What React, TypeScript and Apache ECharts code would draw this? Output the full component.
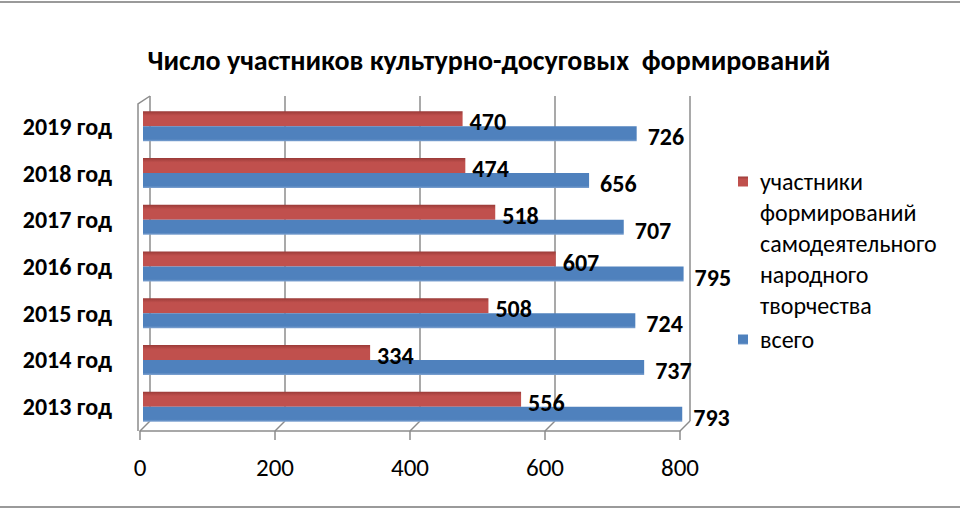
import React, { useEffect, useRef } from 'react';
import * as echarts from 'echarts';

const categories = ['2013 год', '2014 год', '2015 год', '2016 год', '2017 год', '2018 год', '2019 год'];
const participants = [556, 334, 508, 607, 518, 474, 470];
const totals = [793, 737, 724, 795, 707, 656, 726];
const seriesNames = ['участники формирований самодеятельного народного творчества', 'всего'];
const xTicks = [0, 200, 400, 600, 800];
const titleText = 'Число участников культурно-досуговых  формирований';

const FONT = 'Carlito, "Open Sans", sans-serif';
const RED = '#c0504d';
const BLUE = '#4f81bd';
const GRIDC = '#8c8c8c';

const FRONT_BOTTOM = 431;
const BACK_BOTTOM = 421;

export default function App() {
  const ref = useRef<HTMLDivElement>(null);
  useEffect(() => {
    document.body.style.margin = '0';
    const chart = echarts.init(ref.current!, null, { renderer: 'svg' });
    const option: any = {
      animation: false,
      backgroundColor: '#ffffff',
      title: {
        text: titleText,
        left: 484,
        textAlign: 'center',
        top: 41,
        textStyle: { fontFamily: FONT, fontSize: 28, fontWeight: 'bold', color: '#000' },
      },
      legend: {
        orient: 'vertical',
        left: 738,
        top: 42,
        padding: 0,
        itemWidth: 10,
        itemHeight: 10,
        itemGap: 3,
        icon: 'rect',
        selectedMode: false,
        formatter: (name: string) => {
          const lines = name.split(' ');
          const pad = new Array(lines.length - 1).fill('').join('\n');
          return lines.length > 1 ? pad + '\n' + lines.join('\n') : name;
        },
        textStyle: { fontFamily: FONT, fontSize: 24, color: '#000', lineHeight: 31, padding: [0, 0, 0, 7] },
        data: seriesNames,
      },
      grid: [
        { left: 143, top: 103, width: 544, height: 327 },
        { left: 140, top: 103, width: 540, height: FRONT_BOTTOM - 103 },
        { left: 150, top: 96, width: 540, height: BACK_BOTTOM - 96 },
      ],
      xAxis: [
        {
          gridIndex: 0, type: 'value', min: 0, max: 800, interval: 200,
          axisLine: { show: false }, axisTick: { show: false }, axisLabel: { show: false }, splitLine: { show: false },
        },
        {
          gridIndex: 1, type: 'value', min: 0, max: 800, interval: 200,
          axisLine: { show: true, lineStyle: { color: GRIDC, width: 1.5 } },
          axisTick: { show: true, length: 9, lineStyle: { color: GRIDC, width: 1.5 } },
          axisLabel: {
            show: true, margin: 24, fontFamily: FONT, fontSize: 25, color: '#000',
            formatter: (v: number) => (xTicks.includes(v) ? String(v) : ''),
          },
          splitLine: { show: false },
        },
        {
          gridIndex: 2, type: 'value', min: 0, max: 800, interval: 200,
          axisLine: { show: false }, axisTick: { show: false }, axisLabel: { show: false },
          splitLine: { show: true, lineStyle: { color: GRIDC, width: 1.5 } },
        },
      ],
      yAxis: [
        {
          gridIndex: 0, type: 'category', data: categories,
          axisLine: { show: false }, axisTick: { show: false },
          axisLabel: { margin: 31, fontFamily: FONT, fontSize: 24, fontWeight: 'bold', color: '#000' },
        },
        { gridIndex: 1, type: 'category', data: categories, show: false },
        { gridIndex: 2, type: 'category', data: categories, show: false },
      ],
      series: [
        {
          name: seriesNames[0],
          type: 'bar',
          xAxisIndex: 0, yAxisIndex: 0,
          data: participants,
          barWidth: 15,
          barGap: '0%',
          itemStyle: {
            color: new echarts.graphic.LinearGradient(0, 0, 0, 1, [
              { offset: 0, color: '#9a3a37' },
              { offset: 0.2, color: '#b54a47' },
              { offset: 0.3, color: RED },
              { offset: 1, color: RED },
            ]),
          },
          label: {
            show: true, position: 'right', distance: 7, offset: [0, 3],
            fontFamily: FONT, fontSize: 24, fontWeight: 'bold', color: '#000',
          },
        },
        {
          name: seriesNames[1],
          type: 'bar',
          xAxisIndex: 0, yAxisIndex: 0,
          data: totals,
          barWidth: 15,
          barGap: '0%',
          itemStyle: {
            color: new echarts.graphic.LinearGradient(0, 0, 0, 1, [
              { offset: 0, color: BLUE },
              { offset: 0.85, color: BLUE },
              { offset: 1, color: '#7fa3d1' },
            ]),
          },
          label: {
            show: true, position: 'right', distance: 11, offset: [0, 3],
            fontFamily: FONT, fontSize: 24, fontWeight: 'bold', color: '#000',
          },
        },
      ],
    };
    chart.setOption(option);

    const fx = (v: number) => chart.convertToPixel({ xAxisIndex: 1 }, v) as number;
    const bx = (v: number) => chart.convertToPixel({ xAxisIndex: 2 }, v) as number;
    const lineStyle = { stroke: GRIDC, lineWidth: 1.5, fill: 'none' };
    const graphics: any[] = xTicks.map((v) => ({
      type: 'line',
      shape: { x1: fx(v), y1: FRONT_BOTTOM, x2: bx(v), y2: BACK_BOTTOM },
      style: lineStyle,
      silent: true,
    }));
    graphics.push({
      type: 'polyline',
      shape: { points: [[fx(0) - 2, FRONT_BOTTOM], [fx(0) - 2, 104], [bx(0), 96]] },
      style: lineStyle,
      silent: true,
    });
    graphics.push({ type: 'rect', shape: { x: 0, y: 1, width: 960, height: 2 }, style: { fill: '#9a9a9a' }, silent: true });
    graphics.push({ type: 'rect', shape: { x: 0, y: 506, width: 960, height: 2 }, style: { fill: '#9a9a9a' }, silent: true });
    chart.setOption({ graphic: graphics });

    return () => chart.dispose();
  }, []);
  return <div ref={ref} style={{ width: 960, height: 510 }} />;
}
